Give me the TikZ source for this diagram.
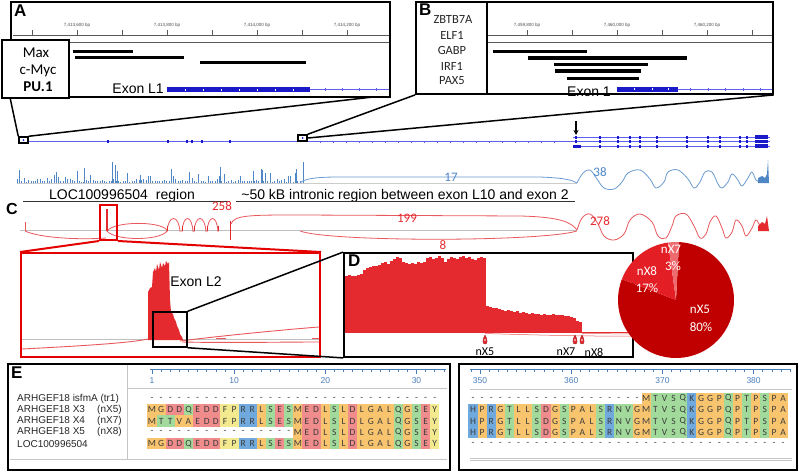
\documentclass[tikz,border=0pt]{standalone}
\usepackage{fontspec}
\setmainfont{Liberation Sans}
\newfontfamily\calfont{Carlito}
\usetikzlibrary{arrows.meta}
\definecolor{covred}{HTML}{E52A2F}
\definecolor{sashred}{HTML}{E9585C}
\definecolor{covblue}{HTML}{4F86C6}
\definecolor{sashblue}{HTML}{6A9BD0}
\definecolor{exonblue}{HTML}{1A1AC8}
\definecolor{lineblue}{HTML}{6060F0}
\definecolor{pieA}{HTML}{C00000}
\definecolor{pieB}{HTML}{E31E25}
\definecolor{pieC}{HTML}{EF6A6E}
\definecolor{rO}{HTML}{F8C46E}
\definecolor{rG}{HTML}{A2DA9C}
\definecolor{rR}{HTML}{F08C8C}
\definecolor{rB}{HTML}{6FA9DD}
\definecolor{rY}{HTML}{F3EA90}
\definecolor{txtgray}{HTML}{3C3C3C}
\definecolor{rulecol}{HTML}{4A7EBB}
\colorlet{aaM}{rO}\colorlet{aaG}{rO}\colorlet{aaL}{rO}\colorlet{aaA}{rO}\colorlet{aaV}{rO}
\colorlet{aaD}{rR}\colorlet{aaE}{rR}
\colorlet{aaQ}{rG}\colorlet{aaS}{rG}\colorlet{aaT}{rG}\colorlet{aaN}{rG}
\colorlet{aaR}{rB}\colorlet{aaK}{rB}\colorlet{aaH}{rB}
\colorlet{aaF}{rY}\colorlet{aaP}{rY}\colorlet{aaY}{rY}
\newcommand\fsz[1]{\fontsize{#1}{#1}\selectfont}
\newcommand\resrow[5]{\foreach \c [count=\i from #4] in {#5} {\node[res, fill=aa\c] (#1-\i) at ({#2+(\i-1)*9.12},#3) {\c};}}
\newcommand\dashrow[5]{\foreach \i in {#4,...,#5} {\node[gapres] (#1-\i) at ({#2+(\i-1)*9.12},#3) {-};}}
\tikzset{
 panelbox/.style={draw=black, line width=1.8pt, inner sep=0pt},
 tfbox/.style={draw=black, line width=1.5pt, fill=white, inner sep=0pt},
 tftext/.style={font=\calfont\fsz{15}, inner sep=0pt},
 tfname/.style={font=\calfont\fsz{12.5}, inner sep=0pt, text=black!85},
 panlab/.style={font=\bfseries\fsz{17}, inner sep=0pt, anchor=north west},
 rulerline/.style={draw=gray!70!black, line width=0.5pt},
 rulerlab/.style={font=\fsz{4.5}, text=gray!60!black, inner sep=0pt},
 tfbar/.style={line width=3pt, black},
 exontext/.style={font=\fsz{14}, inner sep=0pt},
 regionlab/.style={font=\fsz{14}, inner sep=0pt, anchor=base},
 numred/.style={font=\calfont\fsz{13}, text=covred, inner sep=0pt},
 numblue/.style={font=\calfont\fsz{13}, text=covblue, inner sep=0pt},
 pielab/.style={font=\calfont\fsz{13}, text=white, inner sep=0pt},
 isolab/.style={font=\calfont\fsz{12}, inner sep=0pt},
 res/.style={inner sep=0pt, minimum width=9.12pt, minimum height=11.3pt, font=\calfont\fsz{9.5}, text=txtgray},
 gapres/.style={inner sep=0pt, minimum width=9.12pt, minimum height=11.3pt, font=\calfont\fsz{9.5}, text=txtgray},
 seqname/.style={font=\fsz{10}, inner sep=0pt, anchor=west, text=black!85},
 rulenum/.style={font=\fsz{8.5}, inner sep=0pt, text=rulecol},
 redbox/.style={draw=red!90!black, line width=2pt, inner sep=0pt},
 blkbox/.style={draw=black, line width=1.5pt, inner sep=0pt},
 zoomline/.style={line width=1.5pt, black},
 redzoom/.style={line width=2pt, red!90!black},
}
\begin{document}
\begin{tikzpicture}[x=1pt,y=-1pt]
\useasboundingbox (0,0) rectangle (800,471);
\fill[white] (0,0) rectangle (800,471);

% ================= Panel A =================
\draw[rulerline] (13,35) -- (389,35);
\draw[rulerline] (13,42) -- (389,42);
\foreach \x in {32,77,...,347} \draw[rulerline] (\x,35) -- (\x,30);
\node[rulerlab] (ar1) at (77,25) {7,413,600 bp};
\node[rulerlab] (ar2) at (167,25) {7,413,800 bp};
\node[rulerlab] (ar3) at (257,25) {7,414,000 bp};
\node[rulerlab] (ar4) at (347,25) {7,414,200 bp};
\draw[tfbar] (73,51) -- (133,51);
\draw[tfbar] (75,57) -- (184,57);
\draw[tfbar] (200,62) -- (306,62);
\fill[exonblue] (167,87) rectangle (310,92);
\foreach \x in {185,203,...,305} \draw[white, line width=0.4pt] (\x,88.5) -- (\x,90.5);
\draw[lineblue, line width=0.6pt] (310,89.5) -- (389,89.5);
\foreach \x in {325,342,359,376} \draw[lineblue, line width=0.6pt] (\x,88) -- (\x,91);
\node[exontext, anchor=east] (exL1) at (164,89) {Exon L1};
\node[panelbox, minimum width=379pt, minimum height=95pt] (Abox) at (200.5,49.5) {};
\node[panlab] (Alab) at (14,5) {A};
\node[tfbox, minimum width=67pt, minimum height=58pt] (Atf) at (35.5,69) {};
\node[tftext] (tMax) at (36,53) {Max};
\node[tftext] (tMyc) at (38,71) {c-Myc};
\node[tftext, font=\calfont\bfseries\fsz{15}] (tPU) at (38,87) {PU.1};

% ================= Panel B =================
\draw[rulerline] (487,35) -- (772,35);
\draw[rulerline] (487,42) -- (772,42);
\foreach \x in {527,572,...,752} \draw[rulerline] (\x,35) -- (\x,30);
\node[rulerlab] (br1) at (527,25) {7,459,800 bp};
\node[rulerlab] (br2) at (617,25) {7,460,000 bp};
\node[rulerlab] (br3) at (707,25) {7,460,200 bp};
\draw[tfbar] (493,51) -- (587,51);
\draw[tfbar, line width=3.5pt] (528,58) -- (687,58);
\draw[tfbar, line width=3.5pt] (554,64.5) -- (648,64.5);
\draw[tfbar, line width=3.5pt] (555,71) -- (641,71);
\draw[tfbar] (567,78) -- (639,78);
\fill[exonblue] (617,86.5) rectangle (678,91.5);
\foreach \x in {634,652,668} \draw[white, line width=0.4pt] (\x,88) -- (\x,90);
\draw[lineblue, line width=0.6pt] (678,89) -- (772,89);
\foreach \x in {690,708,725,743,760} \draw[lineblue, line width=0.6pt] (\x,87.5) -- (\x,90.5);
\node[exontext, anchor=base] (ex1) at (589,96) {Exon 1};
\node[panelbox, minimum width=357pt, minimum height=92pt] (Bbox) at (594.5,48) {};
\node[tfbox, minimum width=71pt, minimum height=92pt] (Btf) at (451.5,48) {};
\node[panlab] (Blab) at (419,4) {B};
\node[tfname] (nZ) at (453,19) {ZBTB7A};
\node[tfname] (nE) at (452,35) {ELF1};
\node[tfname] (nG) at (452,50.5) {GABP};
\node[tfname] (nI) at (452,66) {IRF1};
\node[tfname] (nP) at (452,81) {PAX5};

% ================= gene track =================
\draw[lineblue, line width=0.6pt] (19,141.5) -- (770,141.5);
\foreach \x in {108,168,187,192,202,230} \fill[exonblue] (\x-0.8,140.3) rectangle (\x+0.8,142.7);
\foreach \x in {320,333,...,565} \draw[lineblue, line width=0.4pt] (\x,140.5) -- (\x,142.5);
\draw[lineblue, line width=0.6pt] (573,137) -- (770,137);
\draw[lineblue, line width=0.6pt] (573,146) -- (770,146);
\foreach \x in {576,600,618,630,640,657,687,708,720,740,747}
  \foreach \yy in {137,141.5,146} \fill[exonblue] (\x-1,\yy-1.5) rectangle (\x+1,\yy+1.5);
\foreach \yy in {137,141.5,146} \fill[exonblue] (755,\yy-1.6) rectangle (768,\yy+1.6);
\fill[exonblue] (573,144.5) rectangle (581,147.5);
\node[blkbox, fill=white, minimum width=9pt, minimum height=6pt] (smA) at (23.5,140) {};
\node[blkbox, fill=white, minimum width=9pt, minimum height=6pt] (smB) at (302.5,138) {};
\fill[exonblue] (23.5,140) circle[radius=1];
\fill[exonblue] (302.5,138) circle[radius=1];
\coordinate (Aend) at (373,97);
\draw[zoomline] (smA.north west) -- (Abox.south west);
\draw[zoomline] (smA.north east) -- (Aend);
\draw[zoomline] (smB.north east) -- (Bbox.south west);
\draw[zoomline] (smB.east) -- (Bbox.south east);
\coordinate (arrTop) at (576,121);
\coordinate (arrTip) at (576,135);
\draw[line width=1.2pt, -{Stealth[length=5pt,width=5pt]}] (arrTop) -- (arrTip);

% ================= blue coverage =================
\draw[gray!40, line width=0.5pt] (17,183) -- (577,183);
\pgfmathsetseed{11}
\foreach \x in {17,19.3,...,300} {
  \pgfmathsetmacro\h{1.5+14*rnd^4}
  \draw[covblue, line width=0.5pt] (\x,183) -- (\x,183-\h);
}
\foreach \x/\h in {84/15,112/21,115/18,117/12,171/14,220/16,253/12,262/13,270/10,296/14,303/21,198/9,140/8} 
  \draw[covblue, line width=0.6pt] (\x,183) -- (\x,183-\h);
\draw[sashblue, line width=0.8pt] (300,183) .. controls (305,178) and (320,177) .. (340,177) -- (540,177) .. controls (565,178) and (572,180) .. (577,183);
\draw[sashblue, line width=0.8pt] plot[smooth, tension=0.6] coordinates {(577,183) (583,173) (590,170) (597,179) (604,188) (614,189) (622,182) (628,173) (640,170) (650,179) (656,188) (664,182) (668,172) (678,170) (688,179) (694,188) (700,182) (705,172) (712,172) (718,184) (722,188) (728,182) (732,174) (738,180) (742,186) (748,178) (752,172) (756,180) (760,182)};
\fill[covblue] (758,183) -- (758,178) -- (762,176) -- (765,178) -- (767,174) -- (768,160) -- (769,183) -- cycle;
\node[numblue] (n17) at (451,177) {17};
\node[numblue] (n38) at (600,172) {38};

% ================= region labels =================
\node[regionlab] (locreg) at (122,199) {LOC100996504\hspace{8pt}region};
\node[regionlab] (intreg) at (405,199) {\textasciitilde 50 kB intronic region between exon L10 and exon 2};
\draw[black!80, line width=0.7pt] (23,201.5) -- (230,201.5);
\draw[black!80, line width=0.7pt] (236,201.5) -- (575,201.5);
\node[panlab, font=\bfseries\fsz{16}] (Clab) at (6,203) {C};

% ================= red track =================
\draw[gray!50, line width=0.6pt] (20,230.5) -- (577,230.5);
\draw[sashred, line width=1pt] (25,231) -- (25,222);
\draw[sashred, line width=0.8pt] (25,231) .. controls (40,238) and (80,240) .. (106,238);
\draw[sashred, line width=0.8pt] (107,231) .. controls (115,221) and (160,221) .. (167,230);
\draw[sashred, line width=0.8pt] (107,231) .. controls (115,241) and (160,241) .. (167,231);
\draw[covred, line width=1.3pt] (107,231) -- (107,209);
\foreach \a/\b in {167/180,182/193,194/206,207/218}
  \draw[sashred, line width=0.8pt] (\a,232) .. controls (\a+1,214) and (\b-1,214) .. (\b,232);
\foreach \x in {167,182,194,207,218} \draw[covred, line width=0.8pt] (\x,231) -- (\x,226);
\draw[covred, line width=1pt] (230,240) -- (230,221);
\draw[sashred, line width=0.8pt] (231,224) .. controls (234,215) and (250,215) .. (300,215) -- (520,216) .. controls (560,217) and (571,222) .. (577,230);
\draw[sashred, line width=0.8pt] (300,231) .. controls (330,242) and (540,242) .. (577,231);
\draw[sashred, line width=0.8pt] plot[smooth, tension=0.6] coordinates {(577,230) (582,218) (590,214) (598,224) (604,236) (614,240) (624,234) (630,220) (640,214) (652,222) (658,236) (666,238) (672,226) (676,216) (686,214) (694,226) (700,238) (706,234) (710,222) (716,216) (722,228) (726,238) (732,232) (736,220) (742,226) (746,236) (752,228) (756,220) (760,226)};
\fill[covred] (758,231) -- (758,226) -- (762,222) -- (765,224) -- (767,216) -- (769,231) -- cycle;
\node[numred] (n258) at (222,206) {258};
\node[numred] (n199) at (407,218) {199};
\node[numred] (n8) at (443,245) {8};
\node[numred] (n278) at (600,221) {278};
\node[redbox, minimum width=17pt, minimum height=35pt] (redsm) at (108.5,222.5) {};

% ================= zoomed red region =================
\draw[gray!50, line width=0.6pt] (22,339) -- (319,339);
\fill[covred] (148,340) -- (148,292) -- (150,288) -- (152,287) -- (153,272) -- (155,268) -- (156,272) -- (157,264) -- (159,270) -- (160,262) -- (162,268) -- (163,263) -- (165,266) -- (166,261) -- (168,264) -- (169,262) -- (170,300) -- (171,312) -- (173,314) -- (174,318) -- (176,322) -- (177,326) -- (179,330) -- (180,334) -- (182,337) -- (183,340) -- cycle;
\draw[sashred, line width=0.9pt] (22,349) .. controls (80,346) and (130,343) .. (148,339);
\draw[sashred, line width=0.9pt] (180,341) .. controls (220,336) and (280,330) .. (319,327);
\draw[sashred, line width=0.9pt] (182,342) .. controls (230,343) and (280,342) .. (319,342);
\draw[sashred, line width=1pt] (216,338.5) -- (226,338.5);
\draw[sashred, line width=1pt] (312,338.5) -- (319,338.5);
\node[exontext] (exL2) at (196,282) {Exon L2};
\node[redbox, minimum width=299pt, minimum height=104pt] (bigred) at (170.5,305) {};
\draw[redzoom] (redsm.south west) -- (bigred.north west);
\draw[redzoom] (redsm.south east) -- (bigred.north east);
\node[blkbox, minimum width=34pt, minimum height=35pt] (blksm) at (170,329.5) {};

% ================= Panel D =================
\foreach \t [count=\i from 0] in {276,275,276,276,275,274,270,268,267,266,266,265,263,262,264,261,259,257,258,262,263,264,263,264,262,263,262,258,257,259,258,256,258,262,259,257,258,259,257,256,258,257,259,260,258,257,258,306,307,308,308,309,310,311,310,311,312,311,313,312,313,314,313,314,314,315,314,315,315,314,315,315,315,316,316,317,318,321,322}
  \fill[covred] ({345.3+3*\i},\t) rectangle ({348.0+3*\i},332);
\draw[covred, line width=0.6pt] (345,332.5) -- (633,332.5);
\draw[sashred, line width=0.5pt] (485,333.5) .. controls (550,335.5) and (600,336.5) .. (640,336);
\draw[sashred, line width=0.5pt] (582,333.5) -- (640,334);
\foreach \x in {485,575,582} {
  \filldraw[fill=covred, draw=covred!70!black, line width=0.4pt] (\x,335) .. controls (\x-3,340) and (\x-2.5,344) .. (\x,344) .. controls (\x+2.5,344) and (\x+3,340) .. (\x,335) -- cycle;
  \fill[white] (\x,340) circle[radius=0.8];
}
\node[isolab] (lX5) at (485,352) {nX5};
\node[isolab] (lX7) at (566,352) {nX7};
\node[isolab] (lX8) at (594,352) {nX8};
\node[blkbox, line width=1.8pt, minimum width=289pt, minimum height=104pt] (Dbox) at (488.5,305) {};
\node[panlab] (Dlab) at (348,255) {D};
\draw[zoomline] (blksm.north east) -- (Dbox.north west);
\draw[zoomline] (blksm.south east) -- (Dbox.south west);

% ================= pie =================
\begin{scope}[shift={(676,300)}, x=1pt, y=1pt]
\fill[pieA] (0,0) -- (159:58) arc[start angle=159, end angle=447, radius=58] -- cycle;
\fill[pieB] (0,0) -- (97.8:58) arc[start angle=97.8, end angle=159, radius=58] -- cycle;
\fill[pieC] (0,0) -- (87:58) arc[start angle=87, end angle=97.8, radius=58] -- cycle;
\end{scope}
\node[pielab] (p7) at (671,249) {nX7};
\node[pielab] (p7v) at (673,266) {3\%};
\node[pielab] (p8) at (647,271) {nX8};
\node[pielab] (p8v) at (647,288) {17\%};
\node[pielab] (p5) at (700,309) {nX5};
\node[pielab] (p5v) at (701,327) {80\%};

% ================= Panel E =================
\draw[gray!45, line width=0.8pt] (127,364) -- (127,459);
\draw[gray!45, line width=0.8pt] (127,388) -- (447,388);
\draw[gray!45, line width=0.8pt] (10,459) -- (447,459);
\draw[gray!45, line width=0.8pt] (470,389) -- (792,389);
\draw[gray!45, line width=0.8pt] (470,458) -- (792,458);
\draw[gray!45, line width=0.8pt] (470,460) -- (792,460);
% rulers
\draw[rulecol, line width=0.6pt] (150,369) -- (446,369);
\foreach \n in {1,...,33} \draw[rulecol, line width=0.5pt] ({152+(\n-1)*9.12},369) -- ++(0,3);
\foreach \n in {1,10,20,30} \draw[rulecol, line width=0.6pt] ({152+(\n-1)*9.12},369) -- ++(0,5);
\node[rulenum] (e1) at (152,381) {1};
\node[rulenum] (e10) at ({152+9*9.12},381) {10};
\node[rulenum] (e20) at ({152+19*9.12},381) {20};
\node[rulenum] (e30) at ({152+29*9.12},381) {30};
\draw[rulecol, line width=0.6pt] (470,369) -- (790,369);
\foreach \n in {349,...,384} \draw[rulecol, line width=0.5pt] ({480+(\n-350)*9.12},369) -- ++(0,3);
\foreach \n in {350,360,370,380} \draw[rulecol, line width=0.6pt] ({480+(\n-350)*9.12},369) -- ++(0,5);
\node[rulenum] (e350) at (480,381) {350};
\node[rulenum] (e360) at ({480+10*9.12},381) {360};
\node[rulenum] (e370) at ({480+20*9.12},381) {370};
\node[rulenum] (e380) at ({480+30*9.12},381) {380};
% names
\node[seqname] (s1) at (17,398.5) {ARHGEF18 isfmA (tr1)};
\node[seqname] (s2) at (17,409.8) {\makebox[80pt][l]{ARHGEF18 X3}(nX5)};
\node[seqname] (s3) at (17,421.1) {\makebox[80pt][l]{ARHGEF18 X4}(nX7)};
\node[seqname] (s4) at (17,432.4) {\makebox[80pt][l]{ARHGEF18 X5}(nX8)};
\node[seqname] (s5) at (17,443.7) {LOC100996504};
% left sequences
\dashrow{La}{152}{398.5}{1}{32}
\resrow{Lb}{152}{409.8}{1}{M,G,D,D,Q,E,D,D,F,P,R,R,L,S,E,S,M,E,D,L,S,L,D,L,G,A,L,Q,G,S,E,Y}
\resrow{Lc}{152}{421.1}{1}{M,T,T,V,A,E,D,D,F,P,R,R,L,S,E,S,M,E,D,L,S,L,D,L,G,A,L,Q,G,S,E,Y}
\dashrow{Ld}{152}{432.4}{1}{16}
\resrow{Ld}{152}{432.4}{17}{M,E,D,L,S,L,D,L,G,A,L,Q,G,S,E,Y}
\resrow{Le}{152}{443.7}{1}{M,G,D,D,Q,E,D,D,F,P,R,R,L,S,E,S,M,E,D,L,S,L,D,L,G,A,L,Q,G,S,E,Y}
% right sequences
\colorlet{aaP}{rO}\colorlet{aaV}{rG}
\dashrow{Ra}{473}{398.5}{1}{19}
\resrow{Ra}{473}{398.5}{20}{M,T,V,S,Q,K,G,G,P,Q,P,T,P,S,P,A}
\resrow{Rb}{473}{409.8}{1}{H,P,R,G,T,L,L,S,D,G,S,P,A,L,S,R,N,V,G,M,T,V,S,Q,K,G,G,P,Q,P,T,P,S,P,A}
\resrow{Rc}{473}{421.1}{1}{H,P,R,G,T,L,L,S,D,G,S,P,A,L,S,R,N,V,G,M,T,V,S,Q,K,G,G,P,Q,P,T,P,S,P,A}
\resrow{Rd}{473}{432.4}{1}{H,P,R,G,T,L,L,S,D,G,S,P,A,L,S,R,N,V,G,M,T,V,S,Q,K,G,G,P,Q,P,T,P,S,P,A}
\dashrow{Re}{473}{443.7}{1}{35}
% boxes
\node[panelbox, line width=2pt, minimum width=442pt, minimum height=106pt] (Eleft) at (229,416.5) {};
\node[panelbox, line width=2pt, minimum width=338pt, minimum height=106pt] (Eright) at (627.5,416.5) {};
\node[panlab] (Elab) at (11,367) {E};
\end{tikzpicture}
\end{document}
